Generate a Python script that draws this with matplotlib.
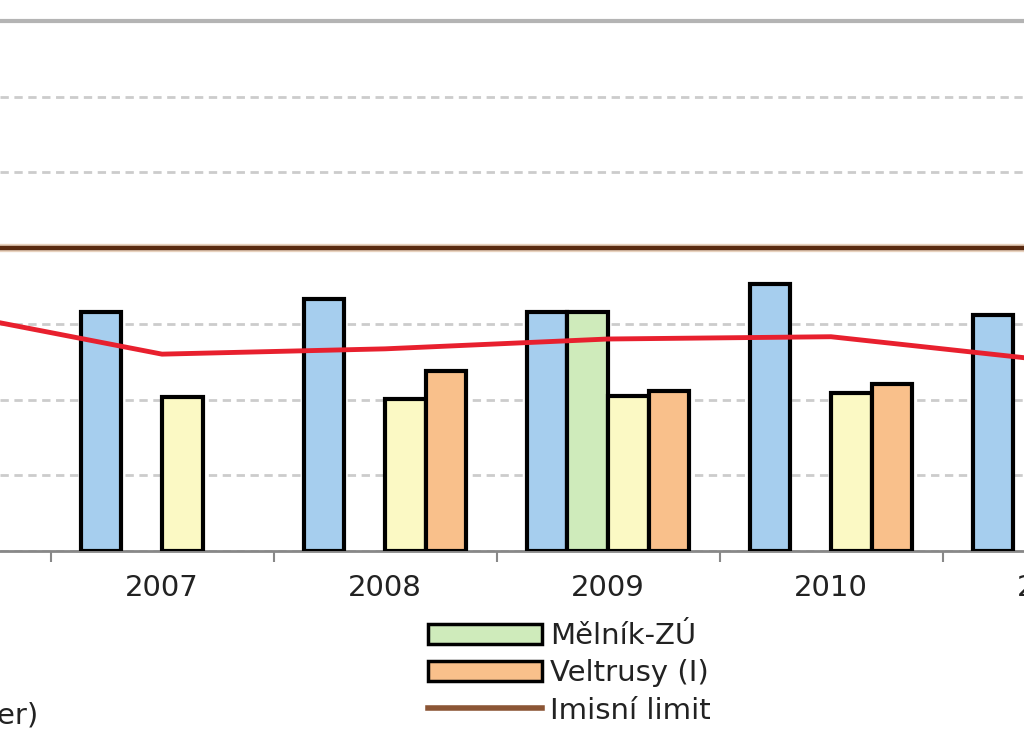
import numpy as np
import matplotlib
matplotlib.use("Agg")
import matplotlib.pyplot as plt
from matplotlib.patches import Patch
from matplotlib.lines import Line2D

# data (µg/m3)
years = ["2006", "2007", "2008", "2009", "2010", "2011"]
blue_vals = [np.nan, 31.6, 33.3, 31.6, 35.3, 31.2]
green_vals = [np.nan, np.nan, np.nan, 31.6, np.nan, np.nan]
yellow_vals = [np.nan, 20.4, 20.1, 20.5, 20.9, 20.0]
orange_vals = [np.nan, np.nan, 23.8, 21.1, 22.1, 22.0]
trend_vals = [31.7, 26.0, 26.7, 28.0, 28.3, 25.1]
limit_val = 40

series_names = ["Mělník (ČHMÚ)", "Kralupy n. V.", "Průměr (městský charakter)",
                "Mělník-ZÚ", "Veltrusy (I)", "Imisní limit"]

fig = plt.figure(figsize=(10.24, 7.45), dpi=100)
W, H = 1024, 745
ax = fig.add_axes([0, (H - 551) / H, 1, 530 / H])

x = np.arange(len(years)) - 1  # 2007 at 0
bw = 0.182
cols = ["#A6CEEE", "#CFEBBB", "#FBF9C4", "#F9C08B"]
for k, (vals, c) in enumerate(zip([blue_vals, green_vals, yellow_vals, orange_vals], cols)):
    ax.bar(x + (k - 1.5) * bw, vals, width=bw, color=c, edgecolor="black",
           linewidth=3, zorder=3)

# limit line with a light halo, then the red line on top
ax.axhline(limit_val, color="#E8D2BE", lw=6, zorder=4)
ax.axhline(limit_val, color="#5A2A10", lw=3.2, zorder=5)
ax.plot(x, trend_vals, color="#E8202E", lw=3.5, zorder=6, solid_joinstyle="round")

ax.set_yticks(np.arange(0, 71, 10))
ax.yaxis.grid(True, color="#CCCCCC", lw=2, linestyle=(0, (3, 2)), zorder=0)
ax.set_axisbelow(True)
ax.set_yticklabels([])
ax.tick_params(axis="y", length=0)

ax.set_xticks(x - 0.5)
ax.set_xticklabels([])
ax.tick_params(axis="x", direction="out", length=8, width=1.5, color="#888888")

# limits after ticks so they are not expanded
ax.set_xlim(-162 / 223, 862 / 223)
ax.set_ylim(0, 70)

# year labels as text so the partly visible last one is drawn too
for xi, yr in zip(x, years):
    ax.text(xi, -0.07, yr, transform=ax.get_xaxis_transform(),
            ha="center", va="center", fontsize=21, color="#222222", clip_on=False)

for s in ["left", "right"]:
    ax.spines[s].set_visible(False)
ax.spines["bottom"].set_color("#888888")
ax.spines["bottom"].set_linewidth(2)
ax.spines["top"].set_color("#B4B4B4")
ax.spines["top"].set_linewidth(3)

# legend, two columns
left_handles = [Patch(facecolor=cols[0], edgecolor="black", lw=2.5),
                Patch(facecolor=cols[2], edgecolor="black", lw=2.5),
                Line2D([], [], color="#E8202E", lw=4)]
right_handles = [Patch(facecolor=cols[1], edgecolor="black", lw=2.5),
                 Patch(facecolor=cols[3], edgecolor="black", lw=2.5),
                 Line2D([], [], color="#8B5535", lw=4)]
kw = dict(frameon=False, fontsize=21, handlelength=3.9, handletextpad=0.3,
          labelspacing=0.32, borderpad=0, borderaxespad=0)
leg1 = fig.legend(left_handles, series_names[:3], loc="upper right",
                  bbox_to_anchor=(38 / W, 1 - 622 / H), **kw)
leg2 = fig.legend(right_handles, series_names[3:], loc="upper left",
                  bbox_to_anchor=(428 / W, 1 - 622 / H), **kw)
for leg in (leg1, leg2):
    for t in leg.get_texts():
        t.set_color("#222222")

fig.savefig("out.png", dpi=100)
